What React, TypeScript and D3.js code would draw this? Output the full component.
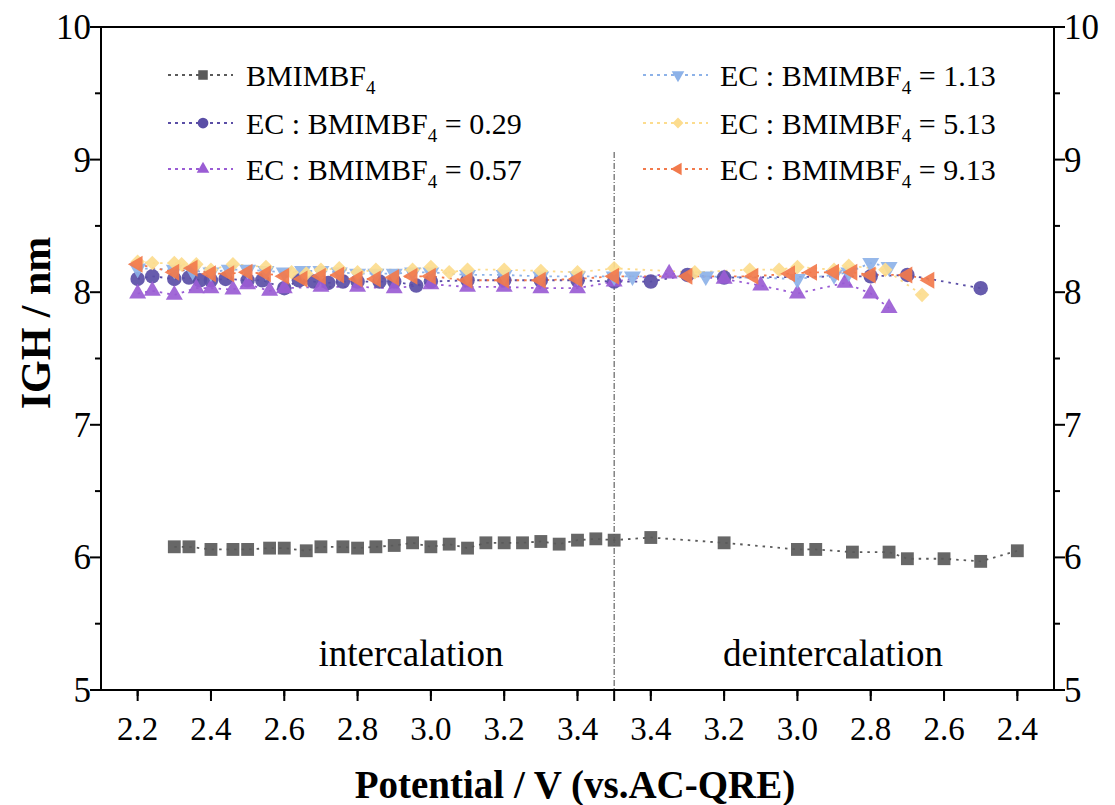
import React from "react";
import * as d3 from "d3";

// ---- data (potential in V, IGH in nm); forward = intercalation, reverse = deintercalation
const bmimFwdV = [2.30, 2.34, 2.40, 2.46, 2.50, 2.56, 2.60, 2.66, 2.70, 2.76, 2.80, 2.85, 2.90, 2.95, 3.00, 3.05, 3.10, 3.15, 3.20, 3.25, 3.30, 3.35, 3.40, 3.45, 3.50];
const bmimFwdY = [6.08, 6.08, 6.06, 6.06, 6.06, 6.07, 6.07, 6.05, 6.08, 6.08, 6.07, 6.08, 6.09, 6.11, 6.08, 6.10, 6.07, 6.11, 6.11, 6.11, 6.12, 6.10, 6.13, 6.14, 6.13];
const bmimRevV = [3.40, 3.20, 3.00, 2.95, 2.85, 2.75, 2.70, 2.60, 2.50, 2.40];
const bmimRevY = [6.15, 6.11, 6.06, 6.06, 6.04, 6.04, 5.99, 5.99, 5.97, 6.05];

const r029FwdV = [2.20, 2.24, 2.30, 2.34, 2.37, 2.40, 2.44, 2.50, 2.54, 2.60, 2.64, 2.68, 2.72, 2.76, 2.80, 2.86, 2.90, 2.96, 3.00, 3.10, 3.20, 3.30, 3.40, 3.50];
const r029FwdY = [8.10, 8.12, 8.10, 8.11, 8.09, 8.09, 8.10, 8.09, 8.09, 8.03, 8.09, 8.08, 8.07, 8.08, 8.08, 8.08, 8.08, 8.05, 8.08, 8.09, 8.09, 8.09, 8.09, 8.08];
const r029RevV = [3.40, 3.30, 3.20, 2.80, 2.70, 2.50];
const r029RevY = [8.08, 8.13, 8.11, 8.12, 8.13, 8.03];

const r057FwdV = [2.20, 2.24, 2.30, 2.36, 2.40, 2.46, 2.50, 2.56, 2.60, 2.70, 2.80, 2.90, 3.00, 3.10, 3.20, 3.30, 3.40, 3.50];
const r057FwdY = [7.99, 8.01, 7.98, 8.03, 8.03, 8.02, 8.06, 8.01, 8.03, 8.04, 8.04, 8.03, 8.06, 8.04, 8.04, 8.03, 8.03, 8.08];
const r057RevV = [3.35, 3.20, 3.10, 3.00, 2.87, 2.80, 2.75];
const r057RevY = [8.14, 8.10, 8.05, 7.99, 8.07, 7.99, 7.88];

const r113FwdV = [2.20, 2.30, 2.35, 2.40, 2.45, 2.50, 2.55, 2.60, 2.65, 2.70, 2.75, 2.80, 2.85, 2.90, 2.95, 3.00, 3.10, 3.20, 3.30, 3.40, 3.50];
const r113FwdY = [8.18, 8.17, 8.16, 8.15, 8.17, 8.17, 8.16, 8.15, 8.16, 8.16, 8.15, 8.14, 8.14, 8.14, 8.15, 8.15, 8.13, 8.13, 8.12, 8.12, 8.12];
const r113RevV = [3.45, 3.25, 3.00, 2.90, 2.86, 2.80, 2.75];
const r113RevY = [8.12, 8.12, 8.10, 8.13, 8.15, 8.22, 8.19];

const r513FwdV = [2.20, 2.24, 2.30, 2.32, 2.36, 2.40, 2.46, 2.55, 2.62, 2.66, 2.70, 2.75, 2.80, 2.85, 2.95, 3.00, 3.05, 3.10, 3.20, 3.30, 3.40, 3.50];
const r513FwdY = [8.23, 8.22, 8.22, 8.21, 8.21, 8.17, 8.21, 8.19, 8.15, 8.14, 8.17, 8.18, 8.15, 8.17, 8.17, 8.19, 8.15, 8.17, 8.17, 8.16, 8.15, 8.18];
const r513RevV = [3.28, 3.13, 3.05, 3.00, 2.90, 2.86, 2.76, 2.66];
const r513RevY = [8.15, 8.17, 8.17, 8.19, 8.17, 8.20, 8.17, 7.98];

const r913FwdV = [2.20, 2.30, 2.35, 2.40, 2.45, 2.50, 2.55, 2.60, 2.65, 2.70, 2.75, 2.80, 2.85, 2.90, 2.95, 3.00, 3.10, 3.20, 3.30, 3.40, 3.50];
const r913FwdY = [8.21, 8.15, 8.18, 8.14, 8.14, 8.15, 8.14, 8.12, 8.10, 8.12, 8.13, 8.10, 8.10, 8.11, 8.12, 8.12, 8.09, 8.09, 8.09, 8.10, 8.12];
const r913RevV = [3.30, 3.12, 3.02, 2.96, 2.90, 2.85, 2.80, 2.70, 2.64];
const r913RevY = [8.12, 8.12, 8.14, 8.15, 8.15, 8.15, 8.13, 8.13, 8.09];

const seriesNames = ["BMIMBF4", "EC : BMIMBF4 = 0.29", "EC : BMIMBF4 = 0.57", "EC : BMIMBF4 = 1.13", "EC : BMIMBF4 = 5.13", "EC : BMIMBF4 = 9.13"];
const seriesColors = ["#5a5a5a", "#5a4ea6", "#9a5cd4", "#8db2e8", "#fcdc8e", "#f27a4c"];

const fwdTicks = [2.2, 2.4, 2.6, 2.8, 3.0, 3.2, 3.4];
const revTicks = [3.4, 3.2, 3.0, 2.8, 2.6, 2.4];
const yTicks = [5, 6, 7, 8, 9, 10];
const yMinor = [5.5, 6.5, 7.5, 8.5, 9.5];
const turnPotential = 3.5;
const startPotential = 2.1;

const FONT = "'Liberation Serif', 'Times New Roman', serif";

type Pt = { t: number; y: number };
const toT = (v: number, rev: boolean) => (rev ? turnPotential - startPotential + (turnPotential - v) : v - startPotential);
const build = (fv: number[], fy: number[], rv: number[], ry: number[]): Pt[] => [
  ...fv.map((v, i) => ({ t: toT(v, false), y: fy[i] })),
  ...rv.map((v, i) => ({ t: toT(v, true), y: ry[i] })),
];

const seriesData: Pt[][] = [
  build(bmimFwdV, bmimFwdY, bmimRevV, bmimRevY),
  build(r029FwdV, r029FwdY, r029RevV, r029RevY),
  build(r057FwdV, r057FwdY, r057RevV, r057RevY),
  build(r113FwdV, r113FwdY, r113RevV, r113RevY),
  build(r513FwdV, r513FwdY, r513RevV, r513RevY),
  build(r913FwdV, r913FwdY, r913RevV, r913RevY),
];

const symbolDefs: { type: d3.SymbolType; size: number; rot: number }[] = [
  { type: d3.symbolSquare, size: 165, rot: 0 },
  { type: d3.symbolCircle, size: 165, rot: 0 },
  { type: d3.symbolTriangle, size: 125, rot: 0 },
  { type: d3.symbolTriangle, size: 125, rot: 180 },
  { type: d3.symbolDiamond2, size: 135, rot: 0 },
  { type: d3.symbolTriangle, size: 125, rot: -90 },
];

const Label = ({ name, x, y }: { name: string; x: number; y: number }) => {
  const parts = name.split("BMIMBF4");
  return (
    <text x={x} y={y} fontFamily={FONT} fontSize={30} fill="#000">
      {parts[0]}BMIMBF
      <tspan fontSize={19} dy={8}>4</tspan>
      <tspan dy={-8}>{parts[1]}</tspan>
    </text>
  );
};

export default function App() {
  const W = 1115, H = 805;
  const x = d3.scaleLinear().domain([0, 2.6]).range([101, 1054]);
  const y = d3.scaleLinear().domain([5, 10]).range([690, 27]);
  const line = d3.line<Pt>().x((d) => x(d.t)).y((d) => y(d.y));
  const minorT = d3.range(0, 27).map((i) => i / 10).filter((t) => Math.abs(((t * 10) % 2) - 1) < 0.01);
  const turnT = toT(turnPotential, false);

  const legendRows = [78, 126, 172];
  const legendPos = seriesNames.map((_, i) => ({ lx: i < 3 ? 168 : 643, mx: i < 3 ? 203 : 678, tx: i < 3 ? 246 : 720, y: legendRows[i % 3] }));

  return (
    <svg width={W} height={H} style={{ position: "absolute", left: 0, top: 0, background: "#fff" }}>
      {/* turning line */}
      <line x1={x(turnT)} x2={x(turnT)} y1={152} y2={y(5)} stroke="#444" strokeWidth={1} strokeDasharray="6,2,1,2" />
      {/* series */}
      {seriesData.map((d, i) => (
        <path key={"l" + i} d={line(d) || ""} fill="none" stroke={seriesColors[i]} strokeWidth={1.8} strokeDasharray="2.5,5" />
      ))}
      {seriesData.map((d, i) => (
        <g key={"m" + i}>
          {d.map((p, j) => (
            <path
              key={j}
              d={d3.symbol().type(symbolDefs[i].type).size(symbolDefs[i].size)() || ""}
              transform={`translate(${x(p.t)},${y(p.y)}) rotate(${symbolDefs[i].rot})`}
              fill={seriesColors[i]}
              fillOpacity={0.92}
            />
          ))}
        </g>
      ))}
      {/* frame */}
      <rect x={x(0)} y={y(10)} width={x(2.6) - x(0)} height={y(5) - y(10)} fill="none" stroke="#000" strokeWidth={2} />
      {/* y ticks left & right */}
      {yTicks.map((v) => (
        <g key={"yt" + v}>
          <line x1={x(0) - 11} x2={x(0)} y1={y(v)} y2={y(v)} stroke="#000" strokeWidth={2} />
          <line x1={x(2.6)} x2={x(2.6) + 11} y1={y(v)} y2={y(v)} stroke="#000" strokeWidth={2} />
          <text x={x(0) - 10} y={y(v) + 12} textAnchor="end" fontFamily={FONT} fontSize={35}>{v}</text>
          <text x={x(2.6) + 10} y={y(v) + 12} textAnchor="start" fontFamily={FONT} fontSize={35}>{v}</text>
        </g>
      ))}
      {yMinor.map((v) => (
        <g key={"ym" + v}>
          <line x1={x(0) - 6} x2={x(0)} y1={y(v)} y2={y(v)} stroke="#000" strokeWidth={2} />
          <line x1={x(2.6)} x2={x(2.6) + 6} y1={y(v)} y2={y(v)} stroke="#000" strokeWidth={2} />
        </g>
      ))}
      {/* x ticks */}
      {fwdTicks.map((v) => (
        <g key={"xf" + v}>
          <line x1={x(toT(v, false))} x2={x(toT(v, false))} y1={y(5)} y2={y(5) + 11} stroke="#000" strokeWidth={2} />
          <text x={x(toT(v, false))} y={y(5) + 50} textAnchor="middle" fontFamily={FONT} fontSize={33}>{d3.format(".1f")(v)}</text>
        </g>
      ))}
      {revTicks.map((v) => (
        <g key={"xr" + v}>
          <line x1={x(toT(v, true))} x2={x(toT(v, true))} y1={y(5)} y2={y(5) + 11} stroke="#000" strokeWidth={2} />
          <text x={x(toT(v, true))} y={y(5) + 50} textAnchor="middle" fontFamily={FONT} fontSize={33}>{d3.format(".1f")(v)}</text>
        </g>
      ))}
      <line x1={x(turnT)} x2={x(turnT)} y1={y(5)} y2={y(5) + 11} stroke="#000" strokeWidth={2} />
      {minorT.map((t) => (
        <line key={"xm" + t} x1={x(t)} x2={x(t)} y1={y(5)} y2={y(5) + 6} stroke="#000" strokeWidth={2} />
      ))}
      {/* annotations */}
      <text x={411} y={666} textAnchor="middle" fontFamily={FONT} fontSize={37}>intercalation</text>
      <text x={833} y={666} textAnchor="middle" fontFamily={FONT} fontSize={37}>deintercalation</text>
      {/* axis titles */}
      <text x={575} y={798} textAnchor="middle" fontFamily={FONT} fontSize={39} fontWeight="bold">Potential / V (vs.AC-QRE)</text>
      <text transform={`translate(50,323) rotate(-90)`} textAnchor="middle" fontFamily={FONT} fontSize={42} fontWeight="bold">IGH / nm</text>
      {/* legend */}
      {seriesNames.map((n, i) => {
        const p = legendPos[i];
        return (
          <g key={"lg" + i}>
            <line x1={p.lx} x2={p.lx + 65} y1={p.y - 3} y2={p.y - 3} stroke={seriesColors[i]} strokeWidth={1.8} strokeDasharray="3,4" />
            <path
              d={d3.symbol().type(symbolDefs[i].type).size(symbolDefs[i].size * 0.55)() || ""}
              transform={`translate(${p.mx},${p.y - 3}) rotate(${symbolDefs[i].rot})`}
              fill={seriesColors[i]}
            />
            <Label name={n} x={p.tx} y={p.y + 8} />
          </g>
        );
      })}
    </svg>
  );
}
